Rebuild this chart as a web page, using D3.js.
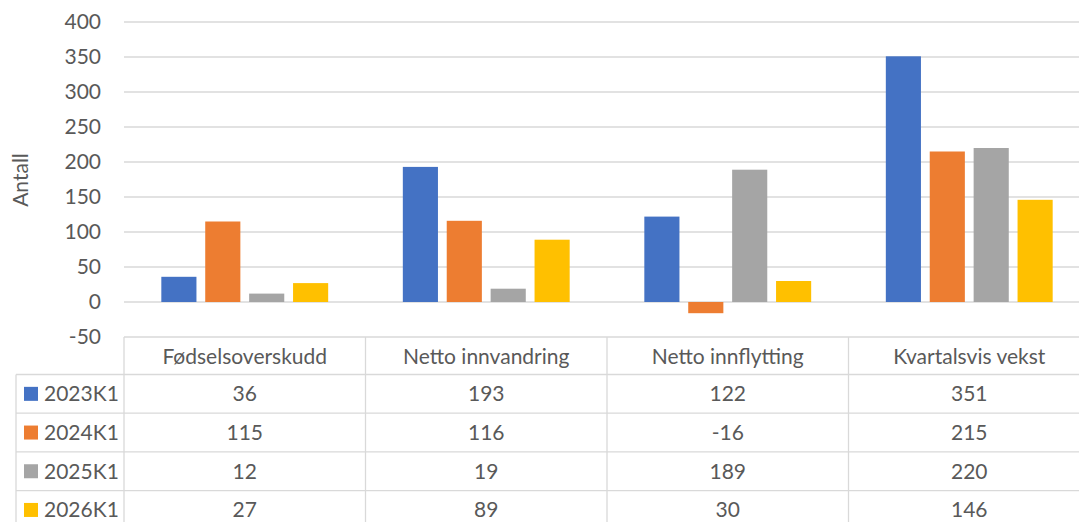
<!DOCTYPE html>
<html>
<head>
<meta charset="utf-8">
<script src="https://cdn.jsdelivr.net/npm/d3@7"></script>
<style>
  body { margin: 0; background: #fff; }
  svg { display: block; }
  text { font-family: Lato, "Open Sans", sans-serif; fill: #595959; font-size: 21px; }
</style>
</head>
<body>
<div id="chart"></div>
<script>
// data
const categories = ["Fødselsoverskudd", "Netto innvandring", "Netto innflytting", "Kvartalsvis vekst"];
const series = ["2023K1", "2024K1", "2025K1", "2026K1"];
const values = [
  [36, 193, 122, 351],
  [115, 116, -16, 215],
  [12, 19, 189, 220],
  [27, 89, 30, 146]
];
const colors = ["#4472C4", "#ED7D31", "#A5A5A5", "#FFC000"];
const yTicks = [-50, 0, 50, 100, 150, 200, 250, 300, 350, 400];

const W = 1079, H = 522;
const plotLeft = 124, plotRight = 1090;
const tableTop = 337, headerH = 37.5, rowH = 38.7;
const grid = "#d9d9d9";

const svg = d3.select("#chart").append("svg")
  .attr("width", W).attr("height", H);

const x0 = d3.scaleBand().domain(categories).range([plotLeft, plotRight]);
const x1 = d3.scaleBand().domain(series).range([0, x0.bandwidth()])
  .paddingInner(0.2).paddingOuter(0.85);
const y = d3.scaleLinear().domain([-50, 400]).range([tableTop, 22]);

// gridlines
svg.append("g").selectAll("line")
  .data(yTicks)
  .enter().append("line")
  .attr("x1", plotLeft).attr("x2", W)
  .attr("y1", d => y(d)).attr("y2", d => y(d))
  .attr("stroke", grid).attr("stroke-width", 1.3);

// y tick labels
svg.append("g").selectAll("text")
  .data(yTicks)
  .enter().append("text")
  .attr("x", 101).attr("y", d => y(d))
  .attr("dy", "0.35em")
  .attr("text-anchor", "end")
  .text(d => d);

svg.append("text")
  .attr("transform", "translate(28,180) rotate(-90)")
  .attr("text-anchor", "middle")
  .text("Antall");

// bars
series.forEach((s, i) => {
  svg.append("g").selectAll("rect")
    .data(values[i])
    .enter().append("rect")
    .attr("x", (d, j) => x0(categories[j]) + x1(s))
    .attr("width", x1.bandwidth())
    .attr("y", d => y(Math.max(0, d)))
    .attr("height", d => Math.abs(y(d) - y(0)))
    .attr("fill", colors[i]);
});

// data table
const tbl = svg.append("g");
const rowY = i => tableTop + headerH + i * rowH;
// horizontal lines
for (let i = 0; i < series.length; i++) {
  tbl.append("line")
    .attr("x1", 16).attr("x2", W)
    .attr("y1", rowY(i)).attr("y2", rowY(i))
    .attr("stroke", grid).attr("stroke-width", 1.3);
}
// vertical lines
categories.forEach(c => {
  tbl.append("line")
    .attr("x1", x0(c)).attr("x2", x0(c))
    .attr("y1", tableTop).attr("y2", H)
    .attr("stroke", grid).attr("stroke-width", 1.3);
});
tbl.append("line")
  .attr("x1", 16).attr("x2", 16)
  .attr("y1", rowY(0)).attr("y2", H)
  .attr("stroke", grid).attr("stroke-width", 1.3);

// header
tbl.selectAll("text.head")
  .data(categories)
  .enter().append("text")
  .attr("class", "head")
  .attr("x", d => x0(d) + x0.bandwidth() / 2)
  .attr("y", tableTop + headerH / 2 + 1)
  .attr("dy", "0.35em")
  .attr("text-anchor", "middle")
  .text(d => d);

// rows
series.forEach((s, i) => {
  const cy = rowY(i) + rowH / 2;
  tbl.append("rect")
    .attr("x", 24).attr("y", cy - 7)
    .attr("width", 14).attr("height", 14)
    .attr("fill", colors[i]);
  tbl.append("text")
    .attr("x", 44).attr("y", cy)
    .attr("dy", "0.35em")
    .text(s);
  tbl.selectAll(null)
    .data(values[i])
    .enter().append("text")
    .attr("x", (d, j) => x0(categories[j]) + x0.bandwidth() / 2)
    .attr("y", cy)
    .attr("dy", "0.35em")
    .attr("text-anchor", "middle")
    .text(d => d);
});
</script>
</body>
</html>
